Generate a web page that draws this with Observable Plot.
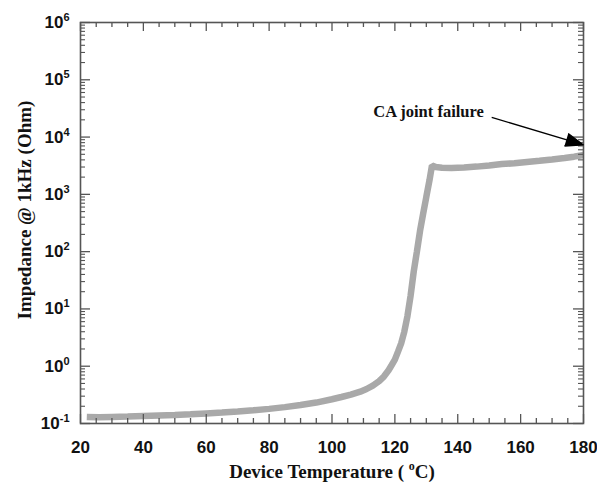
<!DOCTYPE html>
<html><head><meta charset="utf-8">
<script src="https://cdn.jsdelivr.net/npm/d3@7"></script>
<script src="https://cdn.jsdelivr.net/npm/@observablehq/plot@0.6"></script>
<style>
body{margin:0;background:#fff}
#chart svg{display:block;background:#fff}
</style></head><body><div id="chart"></div>
<script>
const temperature = [22, 26, 30, 35, 40, 45, 50, 55, 60, 65, 70, 75, 80, 85, 90, 95, 100, 103, 106, 109, 111, 113, 115, 116.5, 118, 119, 120, 121, 122, 123, 124, 125, 126, 127, 128, 129, 130, 131, 131.8, 133, 135, 138, 142, 146, 150, 154, 158, 162, 166, 170, 174, 177, 180];
const impedance = [0.13, 0.128, 0.13, 0.132, 0.135, 0.138, 0.141, 0.145, 0.15, 0.155, 0.162, 0.17, 0.18, 0.193, 0.21, 0.232, 0.265, 0.29, 0.32, 0.36, 0.4, 0.46, 0.55, 0.66, 0.85, 1.05, 1.3, 1.8, 2.5, 4.0, 7.5, 17, 45, 100, 230, 460, 900, 1750, 3200, 3000, 2920, 2880, 2950, 3050, 3200, 3380, 3500, 3680, 3850, 4050, 4300, 4550, 4850];
const xTickValues = [20, 40, 60, 80, 100, 120, 140, 160, 180];
const yTickExponents = [-1, 0, 1, 2, 3, 4, 5, 6];
const xTitle = "Device Temperature ( °C)";
const yTitle = "Impedance @ 1kHz (Ohm)";
const annotationText = ["CA joint failure"];
const annotationTextPos = [{x: 148.3, y: 27900}];
const annotationArrow = [{x1: 150.8, y1: 22100, x2: 180, y2: 7300}];

const data = temperature.map((t, i) => ({t, z: impedance[i]}));
const yMajor = yTickExponents.map(e => 10 ** e);
const yMinor = yTickExponents.slice(0, -1).flatMap(e => [2,3,4,5,6,7,8,9].map(m => m * 10 ** e));
const xMinor = d3.range(20, 181, 5).filter(v => v % 20 !== 0);

const W = 597, H = 488, mL = 80, mR = 14, mT = 22, mB = 65;
const fw = W - mL - mR, fh = H - mT - mB;
const axisColor = "#555";

const svg = Plot.plot({
  width: W, height: H,
  marginLeft: mL, marginRight: mR, marginTop: mT, marginBottom: mB,
  style: {fontFamily: "Liberation Sans, Arial, sans-serif", fontSize: "17px", fontWeight: "bold", color: "#111", background: "#fff"},
  x: {domain: [20, 180]},
  y: {type: "log", domain: [0.1, 1e6]},
  marks: [
    Plot.line(data, {x: "t", y: "z", stroke: "#a9a9a9", strokeWidth: 6.5, strokeLinecap: "butt", strokeLinejoin: "miter"}),
    // inward ticks, bottom & top
    Plot.tickX(xTickValues, {x: d => d, insetTop: fh - 9, stroke: axisColor, strokeWidth: 1.3}),
    Plot.tickX(xTickValues, {x: d => d, insetBottom: fh - 9, stroke: axisColor, strokeWidth: 1.3}),
    Plot.tickX(xMinor, {x: d => d, insetTop: fh - 5, stroke: axisColor, strokeWidth: 1.3}),
    Plot.tickX(xMinor, {x: d => d, insetBottom: fh - 5, stroke: axisColor, strokeWidth: 1.3}),
    // inward ticks, left & right
    Plot.tickY(yMajor, {y: d => d, insetRight: fw - 10, stroke: axisColor, strokeWidth: 1.3}),
    Plot.tickY(yMajor, {y: d => d, insetLeft: fw - 10, stroke: axisColor, strokeWidth: 1.3}),
    Plot.tickY(yMinor, {y: d => d, insetRight: fw - 5, stroke: axisColor, strokeWidth: 1.1}),
    Plot.tickY(yMinor, {y: d => d, insetLeft: fw - 5, stroke: axisColor, strokeWidth: 1.1}),
    Plot.frame({stroke: axisColor, strokeWidth: 1.6}),
    Plot.arrow(annotationArrow, {x1: "x1", y1: "y1", x2: "x2", y2: "y2", stroke: "#000", fill: "#000", strokeWidth: 1.3, headLength: 22, headAngle: 40, strokeLinejoin: "miter", strokeLinecap: "butt"}),
    Plot.text(annotationTextPos, {x: "x", y: "y", text: (d, i) => annotationText[i], textAnchor: "end", fontFamily: "Liberation Serif, Times New Roman, serif", fontSize: 16.5, fontWeight: "bold", fill: "#111"}),
    Plot.axisX({ticks: xTickValues, tickSize: 0, tickPadding: 17, label: null, tickFormat: d => String(d)}),
    Plot.axisY({ticks: yMajor, tickSize: 0, tickPadding: 11, label: null, tickFormat: d => String(Math.round(Math.log10(d)))}),
    Plot.text([yTitle], {frameAnchor: "left", textAnchor: "middle", dx: -56, dy: -13, rotate: -90, text: d => d, fontFamily: "Liberation Serif, Times New Roman, serif", fontSize: 19, fontWeight: "bold", fill: "#111"}),
    Plot.text([xTitle], {frameAnchor: "bottom", textAnchor: "middle", dy: 54, text: d => d, fontFamily: "Liberation Serif, Times New Roman, serif", fontSize: 19, fontWeight: "bold", fill: "#111"})
  ]
});

// superscripts for powers of ten
d3.select(svg).selectAll('g[aria-label="y-axis tick label"] text').each(function() {
  const e = this.textContent;
  const t = d3.select(this);
  t.text("");
  t.append("tspan").text("10");
  t.append("tspan").attr("dy", -7).attr("font-size", 11).text(e);
});
// superscript "o" in the degree label
d3.select(svg).selectAll("text").each(function() {
  const s = this.textContent;
  if (s.includes("°")) {
    const [a, b] = s.split("°");
    const t = d3.select(this);
    t.text("");
    t.append("tspan").text(a);
    t.append("tspan").attr("dy", -8).attr("font-size", 12).text("o");
    t.append("tspan").attr("dy", 8).text(b);
  }
});

document.getElementById("chart").appendChild(svg);
</script></body></html>
